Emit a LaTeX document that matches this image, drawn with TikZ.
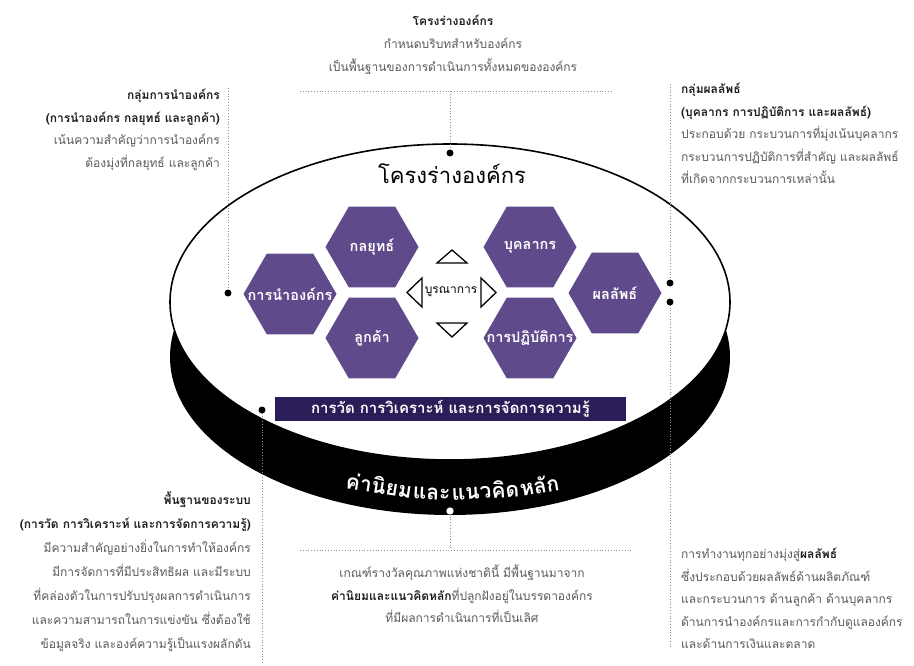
\documentclass[tikz,border=0pt]{standalone}
\usepackage{fontspec}
\newfontfamily\thai[Script=Thai]{Loma}
\usetikzlibrary{shapes.geometric}
\definecolor{hexpurple}{HTML}{5F4B8B}
\definecolor{barnavy}{HTML}{2B1D57}
\definecolor{bodygrey}{HTML}{5A5A5A}
\definecolor{headdark}{HTML}{1E1E1E}
\definecolor{dotgrey}{HTML}{909090}
\tikzset{
  hexshape/.style={regular polygon, regular polygon sides=6, minimum size=93pt, inner sep=0pt, fill=hexpurple},
  hexlabel/.style={text=white, inner sep=0pt, font=\thai\bfseries\fontsize{14.5}{14.5}\selectfont},
  bodytext/.style={font=\thai\fontsize{12}{22.5}\selectfont, text=bodygrey, inner sep=0pt},
  headtext/.style={font=\thai\bfseries\fontsize{12}{22.5}\selectfont, text=headdark, inner sep=0pt},
  dotline/.style={draw=dotgrey, dotted, line width=0.8pt},
  bigdot/.style={circle, fill=black, minimum size=7pt, inner sep=0pt},
  tri/.style={draw=black, line width=1.3pt, fill=white, line join=miter},
  curvtext/.style={font=\thai\bfseries\fontsize{21}{21}\selectfont, text=white, inner sep=0pt},
}
\begin{document}
\begin{tikzpicture}[x=1pt,y=-1pt]
\useasboundingbox (0,0) rectangle (914,666);
\fill[white] (0,0) rectangle (914,666);

% base disc
\fill[black] (450,357) ellipse [x radius=280, y radius=158];
\filldraw[fill=white, draw=black, line width=1.6pt] (450,302) ellipse [x radius=280, y radius=158];

% heading in disc
\node[font=\thai\fontsize{22}{22}\selectfont, inner sep=0pt] (frame) at (452,174) {โครงร่างองค์กร};

% hexagons
\node[hexshape] (lead) at (290,294) {};
\node[hexshape] (strat) at (372,247) {};
\node[hexshape] (cust) at (372,338) {};
\node[hexshape] (work) at (530,247) {};
\node[hexshape] (oper) at (530,338) {};
\node[hexshape] (res) at (615,293) {};
\node[hexlabel] (leadt) at (lead) {การนำองค์กร};
\node[hexlabel] (stratt) at (strat) {กลยุทธ์};
\node[hexlabel] (custt) at (cust) {ลูกค้า};
\node[hexlabel] (workt) at (work) {บุคลากร};
\node[hexlabel] (opert) at (oper) {การปฏิบัติการ};
\node[hexlabel] (rest) at (res) {ผลลัพธ์};

% integration triangles
\draw[tri] (437,263) -- (467,263) -- (452,250) -- cycle;
\draw[tri] (437,323) -- (467,323) -- (452,337) -- cycle;
\draw[tri] (422,278) -- (422,307) -- (407,292.5) -- cycle;
\draw[tri] (481,278) -- (481,307) -- (496,292.5) -- cycle;
\node[font=\thai\fontsize{12}{12}\selectfont, inner sep=0pt] (integ) at (451,292) {บูรณาการ};

% measurement bar
\node[fill=barnavy, minimum width=351pt, minimum height=24pt, inner sep=0pt, text=white, font=\thai\bfseries\fontsize{15}{15}\selectfont] (meas) at (450.5,409) {การวัด การวิเคราะห์ และการจัดการความรู้};

% curved label on band
\node[curvtext, anchor=base west, rotate=-9] (w1) at (345,488) {ค่านิยม};
\node[curvtext, anchor=base west, rotate=-3] (w2) at ([xshift=1.5pt]w1.base east) {และ};
\node[curvtext, anchor=base west, rotate=3] (w3) at ([xshift=1.5pt]w2.base east) {แนวคิด};
\node[curvtext, anchor=base west, rotate=10] (w4) at ([xshift=1.5pt]w3.base east) {หลัก};

% coordinates
\coordinate (tl) at (300,91); \coordinate (tr) at (612,91); \coordinate (tm) at (450,91);
\coordinate (ltop) at (228,88);
\coordinate (rtop) at (670,84); \coordinate (rbot) at (670,648);
\coordinate (bbot) at (262,664);
\coordinate (bm) at (450,550); \coordinate (bl) at (300,550); \coordinate (br) at (632,550);

% dotted leaders
\draw[dotline] (tl) -- (tr);
\draw[dotline] (tm) -- (450,153);
\draw[dotline] (ltop) -- (228,293);
\draw[dotline] (rtop) -- (670,283);
\draw[dotline] (670,302) -- (rbot);
\draw[dotline] (262,410) -- (bbot);
\draw[dotline] (450,511) -- (bm);
\draw[dotline] (bl) -- (br);

% dots
\node[bigdot] (dtop) at (450,153) {};
\node[bigdot] (dleft) at (228,293) {};
\node[bigdot] (dr1) at (670,283) {};
\node[bigdot] (dr2) at (670,302) {};
\node[bigdot] (dbar) at (262,410) {};
\node[circle, fill=white, draw=black, minimum size=8pt, inner sep=0pt] (dbot) at (450,511) {};

% text blocks
\node[headtext, anchor=north, align=center] (toptitle) at (453,15) {โครงร่างองค์กร};
\node[bodytext, anchor=north, align=center] (topbody) at (453,38) {กำหนดบริบทสำหรับองค์กร\\เป็นพื้นฐานของการดำเนินการทั้งหมดขององค์กร};

\node[bodytext, anchor=north east, align=right] (lefttext) at (220,89) {{\color{headdark}\bfseries กลุ่มการนำองค์กร}\\{\color{headdark}\bfseries (การนำองค์กร กลยุทธ์ และลูกค้า)}\\เน้นความสำคัญว่าการนำองค์กร\\ต้องมุ่งที่กลยุทธ์ และลูกค้า};

\node[bodytext, anchor=north west, align=left] (righttext) at (681,83) {{\color{headdark}\bfseries กลุ่มผลลัพธ์}\\{\color{headdark}\bfseries (บุคลากร การปฏิบัติการ และผลลัพธ์)}\\ประกอบด้วย กระบวนการที่มุ่งเน้นบุคลากร\\กระบวนการปฏิบัติการที่สำคัญ และผลลัพธ์\\ที่เกิดจากกระบวนการเหล่านั้น};

\node[bodytext, anchor=north east, align=right, font=\thai\fontsize{12}{24}\selectfont] (bltext) at (251,492) {{\color{headdark}\bfseries พื้นฐานของระบบ}\\{\color{headdark}\bfseries (การวัด การวิเคราะห์ และการจัดการความรู้)}\\มีความสำคัญอย่างยิ่งในการทำให้องค์กร\\มีการจัดการที่มีประสิทธิผล และมีระบบ\\ที่คล่องตัวในการปรับปรุงผลการดำเนินการ\\และความสามารถในการแข่งขัน ซึ่งต้องใช้\\ข้อมูลจริง และองค์ความรู้เป็นแรงผลักดัน};

\node[bodytext, anchor=north, align=center] (bctext) at (462,565) {เกณฑ์รางวัลคุณภาพแห่งชาตินี้ มีพื้นฐานมาจาก\\{\color{headdark}\bfseries ค่านิยมและแนวคิดหลัก}ที่ปลูกฝังอยู่ในบรรดาองค์กร\\ที่มีผลการดำเนินการที่เป็นเลิศ};

\node[bodytext, anchor=north west, align=left] (brtext) at (681,548) {การทำงานทุกอย่างมุ่งสู่{\color{headdark}\bfseries ผลลัพธ์}\\ซึ่งประกอบด้วยผลลัพธ์ด้านผลิตภัณฑ์\\และกระบวนการ ด้านลูกค้า ด้านบุคลากร\\ด้านการนำองค์กรและการกำกับดูแลองค์กร\\และด้านการเงินและตลาด};
\end{tikzpicture}
\end{document}
